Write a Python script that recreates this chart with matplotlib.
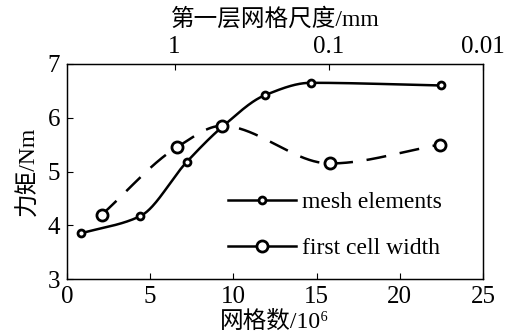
import numpy as np
import matplotlib
matplotlib.use("Agg")
import matplotlib.pyplot as plt
from matplotlib.lines import Line2D
from matplotlib.ticker import FixedLocator, FixedFormatter, NullLocator

plt.rcParams['font.family'] = ['Liberation Serif', 'Noto Sans CJK SC', 'DejaVu Serif']
plt.rcParams['font.size'] = 17

# Torque vs. mesh count (millions of cells)
mesh_n = [0.85, 4.4, 7.2, 9.4, 11.9, 14.65, 22.5]
mesh_torque = [3.85, 4.17, 5.18, 5.85, 6.42, 6.65, 6.60]

# Torque vs. first cell width, placed on the mesh-count axis
cell_n = [2.1, 6.6, 9.3, 15.8, 22.4]
cell_torque = [4.20, 5.45, 5.85, 5.15, 5.50]

# Top axis: first cell width (mm), log scale, decreasing to the right
width_ticks = [1, 0.1, 0.01]
width_labels = ['1', '0.1', '0.01']
width_lim = (4.98, 0.01)

x_ticks = [0, 5, 10, 15, 20, 25]
y_ticks = [3, 4, 5, 6, 7]


def pchip(x, y, xs):
    """Shape-preserving piecewise cubic Hermite interpolation."""
    x = np.asarray(x, float)
    y = np.asarray(y, float)
    h = np.diff(x)
    d = np.diff(y) / h
    n = len(x)
    m = np.zeros(n)
    for k in range(1, n - 1):
        if d[k - 1] * d[k] > 0:
            w1 = 2 * h[k] + h[k - 1]
            w2 = h[k] + 2 * h[k - 1]
            m[k] = (w1 + w2) / (w1 / d[k - 1] + w2 / d[k])
    m[0] = d[0]
    m[-1] = d[-1]
    idx = np.clip(np.searchsorted(x, xs) - 1, 0, n - 2)
    t = (xs - x[idx]) / h[idx]
    h00 = 2 * t**3 - 3 * t**2 + 1
    h10 = t**3 - 2 * t**2 + t
    h01 = -2 * t**3 + 3 * t**2
    h11 = t**3 - t**2
    return (h00 * y[idx] + h10 * h[idx] * m[idx]
            + h01 * y[idx + 1] + h11 * h[idx] * m[idx + 1])


fig = plt.figure(figsize=(5.09, 3.35), dpi=100)
ax = fig.add_axes([0.1316, 0.167, 0.8174, 0.642])

xs1 = np.linspace(mesh_n[0], mesh_n[-1], 400)
ax.plot(xs1, pchip(mesh_n, mesh_torque, xs1), color='black', lw=1.8)
ax.plot(mesh_n, mesh_torque, ls='none', marker='o', ms=5, mfc='white',
        mec='black', mew=2.0)

xs2 = np.linspace(cell_n[0], cell_n[-1], 400)
ax.plot(xs2, pchip(cell_n, cell_torque, xs2), color='black', lw=1.8,
        dashes=(8, 5.5))
ax.plot(cell_n, cell_torque, ls='none', marker='o', ms=8, mfc='white',
        mec='black', mew=2.0)

ax.set_xlim(0, 25)
ax.set_ylim(3, 7)
ax.set_xticks(x_ticks)
ax.set_yticks(y_ticks)
ax.tick_params(direction='in', length=4, width=0.8, pad=5, labelsize=18,
               top=False, right=False)
ax.set_xlabel('网格数/10⁶', labelpad=2, fontsize=17)
ax.set_ylabel('力矩/Nm', labelpad=6, fontsize=17)

ax2 = ax.twiny()
ax2.set_xscale('log')
ax2.set_xlim(*width_lim)
ax2.xaxis.set_major_locator(FixedLocator(width_ticks))
ax2.xaxis.set_major_formatter(FixedFormatter(width_labels))
ax2.xaxis.set_minor_locator(NullLocator())
ax2.tick_params(direction='in', length=4, width=0.8, pad=4, labelsize=18)
ax2.set_xlabel('第一层网格尺度/mm', labelpad=8, fontsize=17)

for a in (ax, ax2):
    for s in a.spines.values():
        s.set_linewidth(0.9)

handles = [
    Line2D([], [], color='black', lw=1.8, marker='o', ms=5, mfc='white',
           mec='black', mew=2.0),
    Line2D([], [], color='black', lw=1.8, marker='o', ms=8, mfc='white',
           mec='black', mew=2.0),
]
ax.legend(handles, ['mesh elements', 'first cell width'], loc='center left',
          bbox_to_anchor=(0.387, 0.25), frameon=False, borderpad=0,
          borderaxespad=0, handlelength=2.9, handletextpad=0.25,
          labelspacing=1.05, fontsize=17)

fig.savefig('out.png', dpi=100)
